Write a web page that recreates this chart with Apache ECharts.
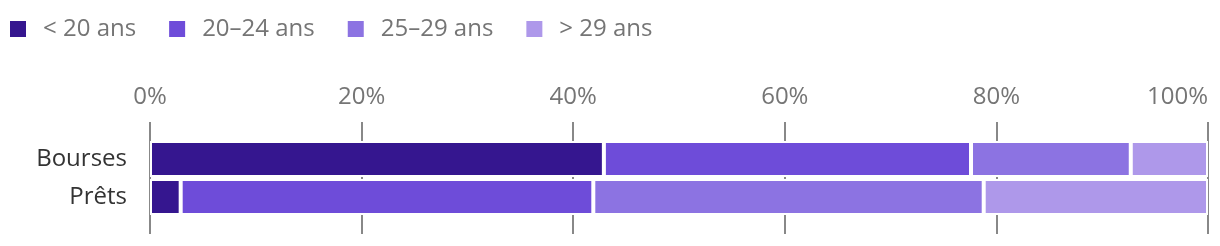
<!DOCTYPE html>
<html><head><meta charset="utf-8">
<script src="https://cdn.jsdelivr.net/npm/echarts@6/dist/echarts.min.js"></script>
<style>html,body{margin:0;padding:0;background:#fff}#c{width:1220px;height:246px}</style>
</head><body><div id="c"></div>
<script>
const categories = ['Bourses', 'Prêts'];
const seriesNames = ['< 20 ans', '20–24 ans', '25–29 ans', '> 29 ans'];
const under20 = [42.9, 2.9];
const age20to24 = [34.7, 39.0];
const age25to29 = [15.1, 36.9];
const over29 = [7.3, 21.2];
const tickLabels = ['0%', '20%', '40%', '60%', '80%', '100%'];
const colors = ['#35168f', '#6e4cd9', '#8c73e2', '#ae98ea'];

const values = [under20, age20to24, age25to29, over29];
const font = '"Open Sans", "Noto Sans", sans-serif';
const chart = echarts.init(document.getElementById('c'));
chart.setOption({
  animation: false,
  color: colors,
  legend: {
    left: 5, top: 12, itemWidth: 16, itemHeight: 16, itemGap: 33, icon: 'rect',
    itemStyle: { borderWidth: 0 },
    textStyle: { fontFamily: font, fontSize: 24, color: '#757575', padding: [0, 0, 0, 12] },
    data: seriesNames
  },
  grid: [
    { left: 150, right: 12, top: 140, bottom: 30 },
    { left: 150, right: 12, top: 122, bottom: 12 }
  ],
  xAxis: [
    { gridIndex: 0, type: 'value', min: 0, max: 100, interval: 20, show: false },
    { gridIndex: 1, type: 'value', min: 0, max: 100, interval: 20, position: 'top',
      axisLine: { show: false }, axisTick: { show: false },
      splitLine: { show: true, lineStyle: { color: '#888', width: 2 } },
      axisLabel: { margin: 13, fontFamily: font, fontSize: 24, color: '#757575', alignMaxLabel: 'right',
        formatter: v => tickLabels[Math.round(v / 20)] } }
  ],
  yAxis: [
    { gridIndex: 0, type: 'category', data: categories, inverse: true,
      axisLine: { show: false }, axisTick: { show: false }, splitLine: { show: false },
      axisLabel: { margin: 23, fontFamily: font, fontSize: 24, color: '#333' } },
    { gridIndex: 1, type: 'category', data: categories, show: false }
  ],
  series: seriesNames.map((n, i) => ({
    name: n, type: 'bar', stack: 'total', xAxisIndex: 0, yAxisIndex: 0,
    barWidth: 36, data: values[i],
    itemStyle: { color: colors[i], borderColor: '#fff', borderWidth: 2 }
  }))
});
</script></body></html>
